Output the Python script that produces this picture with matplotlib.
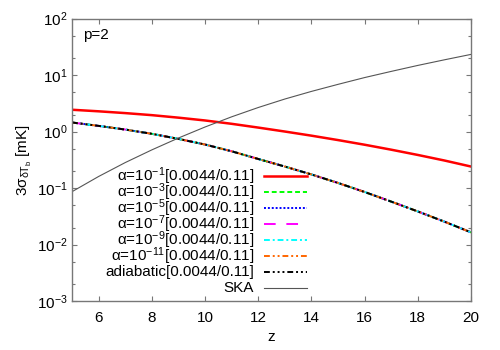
import numpy as np
import matplotlib
matplotlib.use('Agg')
import matplotlib.pyplot as plt
from matplotlib.ticker import LogLocator, FixedLocator, NullFormatter

plt.rcParams['font.family'] = ['Liberation Sans', 'DejaVu Sans']
plt.rcParams['mathtext.fontset'] = 'custom'
plt.rcParams['mathtext.rm'] = 'Liberation Sans'
plt.rcParams['mathtext.it'] = 'Liberation Sans'
plt.rcParams['font.size'] = 11

# redshift grid and 3-sigma brightness-temperature error (mK)
z = [5, 6, 7, 8, 9, 10, 11, 12, 13, 14, 15, 16, 17, 18, 19, 20]
alpha_1 = [2.43, 2.28, 2.12, 1.95, 1.76, 1.57, 1.37, 1.175, 1.0, 0.845,
           0.706, 0.584, 0.477, 0.385, 0.307, 0.240]
# alpha <= 1e-3 runs sit right on top of the adiabatic curve
adiabatic = [1.445, 1.259, 1.084, 0.912, 0.741, 0.589, 0.447, 0.327, 0.240, 0.174,
             0.123, 0.0851, 0.0575, 0.0385, 0.0254, 0.0164]
alpha_small = adiabatic
ska = [0.0861, 0.160, 0.282, 0.473, 0.767, 1.202, 1.82, 2.66, 3.76, 5.13,
       6.84, 9.02, 11.6, 14.8, 18.6, 23.2]

exponents = ['-1', '-3', '-5', '-7', '-9', '-11']
tag = '[0.0044/0.11]'
labels = ['α=10$^{%s}$%s' % (e, tag) for e in exponents] + ['adiabatic' + tag, 'SKA']
series = [alpha_1] + [alpha_small] * 5 + [adiabatic, ska]

styles = [
    dict(color='#ff0000', lw=1.8, ls='-'),
    dict(color='#00ff00', lw=1.4, dashes=(2.5, 1.5)),
    dict(color='#0000ff', lw=1.4, dashes=(1, 1)),
    dict(color='#ff00ff', lw=1.4, dashes=(6, 5.5)),
    dict(color='#00ffff', lw=1.4, dashes=(3, 1.5, 1, 1.5)),
    dict(color='#ff6600', lw=1.4, dashes=(3, 1.5, 1, 1.5, 1, 1.5)),
    dict(color='#000000', lw=1.4, dashes=(3, 1.5, 1, 1.5, 1, 1.5, 1, 1.5)),
    dict(color='#555555', lw=0.8, ls='-'),
]

fig = plt.figure(figsize=(5, 3.5), dpi=100)
ax = fig.add_axes([0.144, 0.14, 0.798, 0.807])

for y, st in zip(series, styles):
    ax.plot(z, y, **st)

ax.set_yscale('log')
ax.set_xlim(5, 20)
ax.set_ylim(1e-3, 1e2)
ax.xaxis.set_major_locator(FixedLocator([6, 8, 10, 12, 14, 16, 18, 20]))
ax.yaxis.set_major_locator(LogLocator(base=10))
ax.yaxis.set_minor_locator(LogLocator(base=10, subs=(2, 5)))
ax.yaxis.set_minor_formatter(NullFormatter())

frame = '#777777'
for s in ax.spines.values():
    s.set_color(frame)
    s.set_linewidth(1.0)
ax.tick_params(which='both', direction='in', top=True, right=True, color=frame)
ax.tick_params(which='major', length=3.6, width=0.8)
ax.tick_params(which='minor', length=2, width=0.8)
ax.tick_params(axis='x', pad=7)
ax.tick_params(axis='y', pad=3)

ax.set_xlabel('z', labelpad=4)
ax.set_ylabel('3σ$_{\\mathrm{δT_b}}$ [mK]', labelpad=2)
ax.text(0.028, 0.94, 'p=2', transform=ax.transAxes, ha='left', va='center')

# gnuplot-style key: right-aligned text, sample line on the right
row0, step = 0.4425, 0.0566
for i, (lab, st) in enumerate(zip(labels, styles)):
    yk = row0 - i * step
    ax.text(0.456, yk, lab, transform=ax.transAxes, ha='right', va='center')
    ax.plot([0.481, 0.589], [yk, yk], transform=ax.transAxes, **st)

fig.savefig('out.png', dpi=100)
